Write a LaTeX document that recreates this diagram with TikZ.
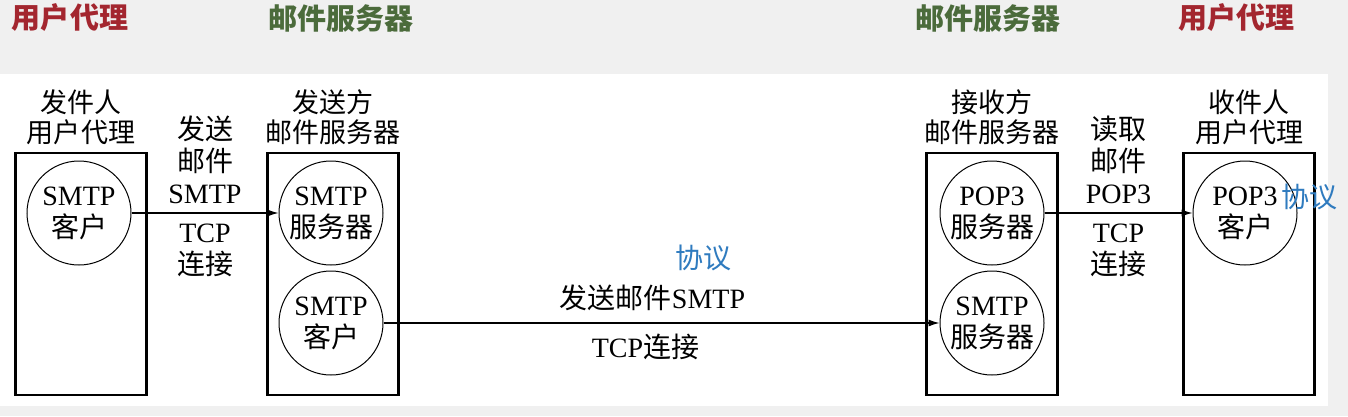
\documentclass[tikz,border=0pt]{standalone}
\usepackage{fontspec}
\setmainfont{Liberation Serif}
\newfontfamily\cjk{Noto Sans CJK SC}
\usepackage{tikz}
\usetikzlibrary{positioning, arrows.meta}
\usepackage{xcolor}
\definecolor{agentred}{HTML}{A3262F}
\definecolor{servergreen}{HTML}{4B6B3B}
\definecolor{noteblue}{HTML}{2F7BBF}
\definecolor{bggray}{HTML}{F0F0F0}
\newcommand{\zh}[1]{{\cjk #1}}

\begin{document}
\begin{tikzpicture}[x=1pt, y=-1pt, ->, >={Latex[length=11pt,width=7pt]}, line width=1.2pt,
    every node/.style={font=\fontsize{28}{32}\selectfont, align=center},
    host/.style={draw, line width=2.2pt, minimum width=131pt, minimum height=242pt},
    agent/.style={draw, circle, line width=1pt, minimum size=104pt, inner sep=0pt},
    title/.style={font=\fontsize{27}{30}\selectfont},
    heading/.style={font=\fontsize{29}{34}\selectfont\cjk\bfseries},
    note/.style={text=noteblue, font=\fontsize{28}{32}\selectfont\cjk}]

  % page background
  \fill[bggray] (0,0) rectangle (1348,416);
  \fill[white] (0,74) rectangle (1328,406);

  % headings
  \node[heading, text=agentred]    (h1) at (70,18)   {用户代理};
  \node[heading, text=servergreen] (h2) at (341,18)  {邮件服务器};
  \node[heading, text=servergreen] (h3) at (988,18)  {邮件服务器};
  \node[heading, text=agentred]    (h4) at (1236,18) {用户代理};

  % the four hosts
  \node[host] (ua1) at (81,274)   {};
  \node[host] (ms1) at (333,274)  {};
  \node[host] (ms2) at (992,274)  {};
  \node[host] (ua2) at (1249,274) {};

  \node[title, above=3pt of ua1] (t1) {\zh{发件人}\\\zh{用户代理}};
  \node[title, above=3pt of ms1] (t2) {\zh{发送方}\\\zh{邮件服务器}};
  \node[title, above=3pt of ms2] (t3) {\zh{接收方}\\\zh{邮件服务器}};
  \node[title, above=3pt of ua2] (t4) {\zh{收件人}\\\zh{用户代理}};

  % client and server processes
  \node[agent] (uc1) at (79,213)   {SMTP\\\zh{客户}};
  \node[agent] (ss1) at (331,213)  {SMTP\\\zh{服务器}};
  \node[agent] (sc1) at (331,323)  {SMTP\\\zh{客户}};
  \node[agent] (ps)  at (992,213)  {POP3\\\zh{服务器}};
  \node[agent] (ss2) at (992,323)  {SMTP\\\zh{服务器}};
  \node[agent] (pc)  at (1245,213) {POP3\\\zh{客户}};

  \draw (uc1) -- node[above=5pt] (l1) {\zh{发送}\\\zh{邮件}\\SMTP}
                 node[below=7pt] (l2) {TCP\\\zh{连接}} (ss1);
  \draw (sc1) -- node[above=8pt, xshift=-9pt] (l3) {\zh{发送邮件}SMTP}
                 node[below=7pt, xshift=-16pt] (l4) {TCP\zh{连接}} (ss2);
  \draw (ps) -- node[above=5pt] (l5) {\zh{读取}\\\zh{邮件}\\POP3}
                node[below=7pt] (l6) {TCP\\\zh{连接}} (pc);

  \node[note] (n1) at (703,258)  {协议};
  \node[note] (n2) at (1309,197) {协议};

\end{tikzpicture}
\end{document}
